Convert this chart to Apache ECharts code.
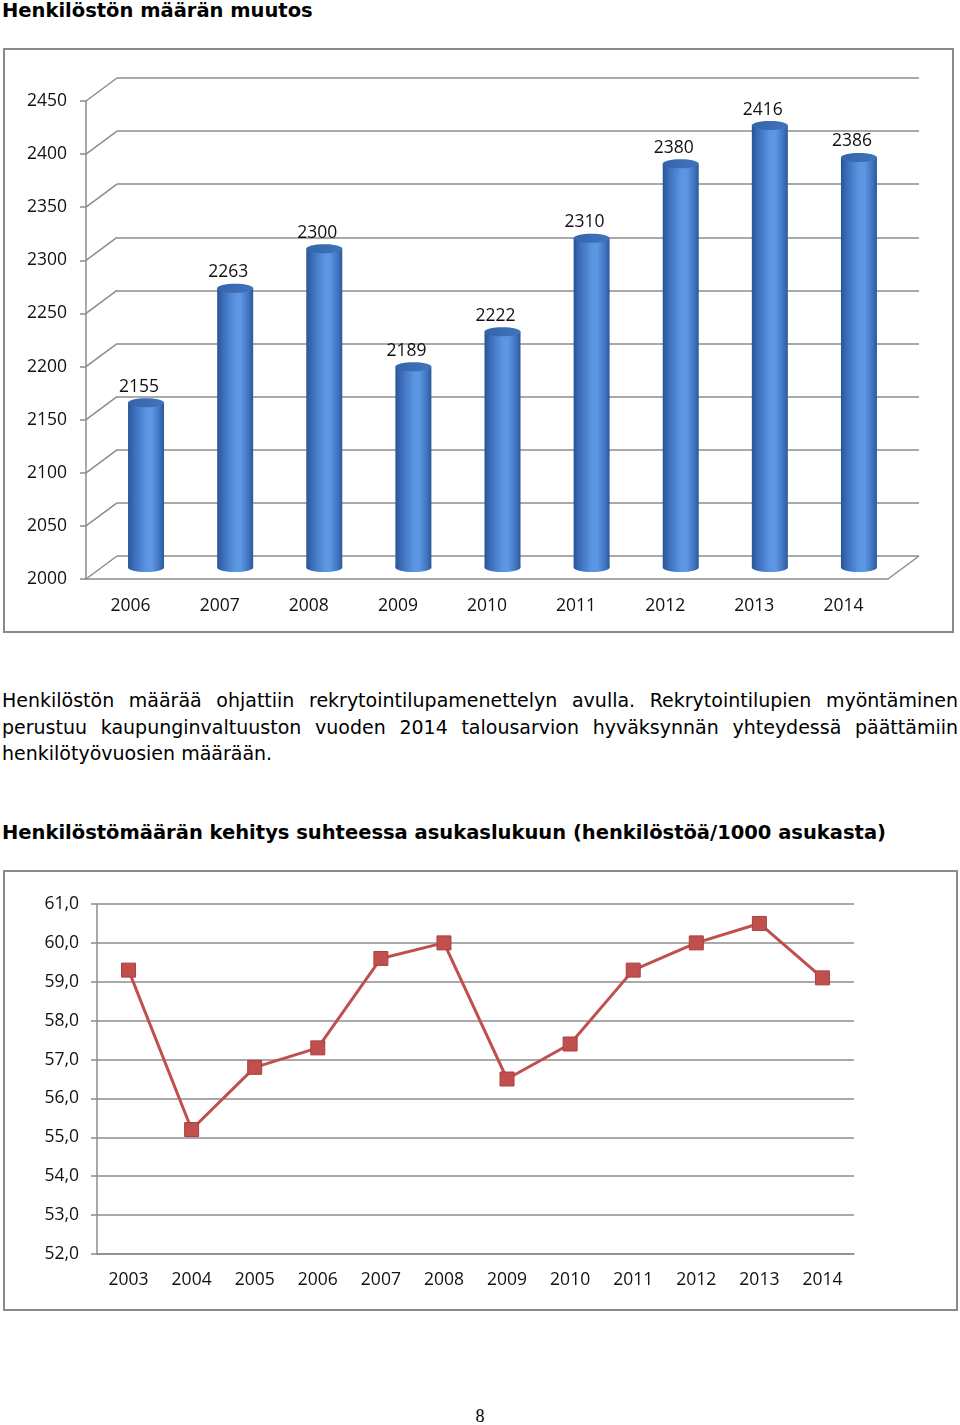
<!DOCTYPE html>
<html>
<head>
<meta charset="utf-8">
<script src="https://cdn.jsdelivr.net/npm/echarts@6/dist/echarts.min.js"></script>
<style>
  html, body { margin: 0; padding: 0; background: #fff; }
  body { width: 960px; height: 1425px; position: relative; overflow: hidden; font-family: "DejaVu Sans", sans-serif; color: #000; }
  .box { position: absolute; border: 2px solid #8a8a8a; box-sizing: border-box; }
  .h { position: absolute; left: 2px; font-weight: bold; font-size: 19.5px; white-space: nowrap; }
  .p { position: absolute; left: 2px; top: 687px; width: 956px; font-size: 19px; line-height: 26.5px; }
  .p div { text-align: justify; text-align-last: justify; }
  .p div.last { text-align-last: left; }
  .page { position: absolute; left: 0; width: 960px; top: 1406px; text-align: center; font-family: "Liberation Serif", serif; font-size: 18px; }
  #chart { position: absolute; left: 0; top: 0; width: 960px; height: 1425px; }
</style>
</head>
<body>
<div class="h" style="top:-1px">Henkilöstön määrän muutos</div>
<div class="box" style="left:3px;top:48px;width:951px;height:585px"></div>
<div class="p">
  <div>Henkilöstön määrää ohjattiin rekrytointilupamenettelyn avulla. Rekrytointilupien myöntäminen</div>
  <div>perustuu kaupunginvaltuuston vuoden 2014 talousarvion hyväksynnän yhteydessä päättämiin</div>
  <div class="last">henkilötyövuosien määrään.</div>
</div>
<div class="h" style="top:821px">Henkilöstömäärän kehitys suhteessa asukaslukuun (henkilöstöä/1000 asukasta)</div>
<div class="box" style="left:3px;top:870px;width:955px;height:441px"></div>
<div class="page">8</div>
<div id="chart"></div>
<script>
// henkilöstön määrä
const years1 = ["2006", "2007", "2008", "2009", "2010", "2011", "2012", "2013", "2014"];
const staff = [2155, 2263, 2300, 2189, 2222, 2310, 2380, 2416, 2386];
const staffTicks = [2000, 2050, 2100, 2150, 2200, 2250, 2300, 2350, 2400, 2450];

// henkilöstöä / 1000 asukasta
const years2 = ["2003", "2004", "2005", "2006", "2007", "2008", "2009", "2010", "2011", "2012", "2013", "2014"];
const perThousand = [59.3, 55.2, 56.8, 57.3, 59.6, 60.0, 56.5, 57.4, 59.3, 60.0, 60.5, 59.1];
const rateTicks = [52, 53, 54, 55, 56, 57, 58, 59, 60, 61];

const gridColor = "#8c8c8c";
const labelFont = '"Open Sans", "Noto Sans", sans-serif';
const depthX = 31, depthY = -23; // 3d syvyys

const chart = echarts.init(document.getElementById("chart"));

// sylinteri
function renderCylinder(params, api) {
  const top = api.coord([api.value(0), api.value(1)]);
  const base = api.coord([api.value(0), staffTicks[0]]);
  const r = 18, ry = 4.5;
  const body = new echarts.graphic.LinearGradient(0, 0, 1, 0, [
    { offset: 0, color: "#2a5596" },
    { offset: 0.18, color: "#3c6fbb" },
    { offset: 0.5, color: "#5b94e0" },
    { offset: 0.65, color: "#5e97e3" },
    { offset: 0.88, color: "#3f73bf" },
    { offset: 1, color: "#2c5898" }
  ]);
  const cap = new echarts.graphic.LinearGradient(0, 0, 1, 0, [
    { offset: 0, color: "#3565ab" },
    { offset: 1, color: "#3f74bd" }
  ]);
  return {
    type: "group",
    children: [
      { type: "rect", shape: { x: top[0] - r, y: top[1], width: 2 * r, height: base[1] - top[1] }, style: { fill: body } },
      { type: "ellipse", shape: { cx: top[0], cy: base[1], rx: r, ry: ry }, style: { fill: body } },
      { type: "ellipse", shape: { cx: top[0], cy: top[1], rx: r, ry: ry }, style: { fill: cap } },
      {
        type: "text",
        x: top[0] - 7,
        y: top[1] - 16,
        style: { text: String(api.value(1)), fill: "#111", font: "17.5px " + labelFont, align: "center", verticalAlign: "middle" }
      }
    ]
  };
}

// vinoviivat etureunasta takaseinään
function renderDepth(params, api) {
  const p = api.coord([0, api.value(1)]);
  const cs = params.coordSys;
  const style = { stroke: gridColor, lineWidth: 1.5 };
  const children = [
    { type: "line", shape: { x1: cs.x, y1: p[1], x2: cs.x + depthX, y2: p[1] + depthY }, style: style }
  ];
  if (api.value(1) === staffTicks[0]) {
    const xr = cs.x + cs.width;
    children.push({ type: "line", shape: { x1: xr, y1: p[1], x2: xr + depthX, y2: p[1] + depthY }, style: style });
  }
  return { type: "group", children: children };
}

const axisText = { color: "#111", fontSize: 17.5, fontFamily: labelFont };

chart.setOption({
  animation: false,
  grid: [
    { left: 86, top: 101, width: 802, height: 478 },   // etureuna
    { left: 117, top: 78, width: 802, height: 478 },   // takaseinä
    { left: 101.5, top: 89.5, width: 802, height: 478 }, // pylväät
    { left: 97, top: 904, width: 757, height: 350 }    // viiva
  ],
  xAxis: [
    {
      gridIndex: 0, type: "category", data: years1,
      axisLine: { lineStyle: { color: gridColor, width: 1.5 } },
      axisTick: { length: 6, lineStyle: { color: gridColor, width: 1.5 } },
      axisLabel: Object.assign({ margin: 18 }, axisText),
      splitLine: { show: false }
    },
    { gridIndex: 1, type: "category", data: years1, show: false },
    { gridIndex: 2, type: "category", data: years1, show: false },
    {
      gridIndex: 3, type: "category", data: years2,
      axisLine: { lineStyle: { color: gridColor, width: 1.5 } },
      axisTick: { length: 6, lineStyle: { color: gridColor, width: 1.5 } },
      axisLabel: Object.assign({ margin: 17 }, axisText),
      splitLine: { show: false }
    }
  ],
  yAxis: [
    {
      gridIndex: 0, type: "value",
      min: staffTicks[0], max: staffTicks[staffTicks.length - 1], interval: 50,
      axisLine: { show: true, lineStyle: { color: gridColor, width: 1.5 } },
      axisTick: { show: true, length: 6, lineStyle: { color: gridColor, width: 1.5 } },
      axisLabel: Object.assign({ margin: 19, formatter: v => String(v) }, axisText),
      splitLine: { show: false }
    },
    {
      gridIndex: 1, type: "value",
      min: staffTicks[0], max: staffTicks[staffTicks.length - 1], interval: 50,
      axisLine: { show: false }, axisTick: { show: false }, axisLabel: { show: false },
      splitLine: { show: true, lineStyle: { color: gridColor, width: 1.5 } }
    },
    {
      gridIndex: 2, type: "value", show: false,
      min: staffTicks[0], max: staffTicks[staffTicks.length - 1]
    },
    {
      gridIndex: 3, type: "value",
      min: rateTicks[0], max: rateTicks[rateTicks.length - 1], interval: 1,
      axisLine: { show: true, lineStyle: { color: gridColor, width: 1.5 } },
      axisTick: { show: true, length: 6, lineStyle: { color: gridColor, width: 1.5 } },
      axisLabel: Object.assign({ margin: 18, formatter: v => v.toFixed(1).replace(".", ",") }, axisText),
      splitLine: { show: true, lineStyle: { color: gridColor, width: 1.5 } }
    }
  ],
  series: [
    {
      type: "custom", xAxisIndex: 0, yAxisIndex: 0,
      data: staffTicks.map(v => [0, v]), encode: { x: 0, y: 1 },
      renderItem: renderDepth, clip: false, silent: true
    },
    {
      type: "custom", xAxisIndex: 2, yAxisIndex: 2,
      data: staff.map((v, i) => [i, v]), encode: { x: 0, y: 1 },
      renderItem: renderCylinder, clip: false
    },
    {
      type: "line", xAxisIndex: 3, yAxisIndex: 3,
      data: perThousand,
      symbol: "rect", symbolSize: 14,
      lineStyle: { color: "#c0504d", width: 3 },
      itemStyle: { color: "#c0504d", borderColor: "#a9413e", borderWidth: 1 }
    }
  ]
});
</script>
</body>
</html>
